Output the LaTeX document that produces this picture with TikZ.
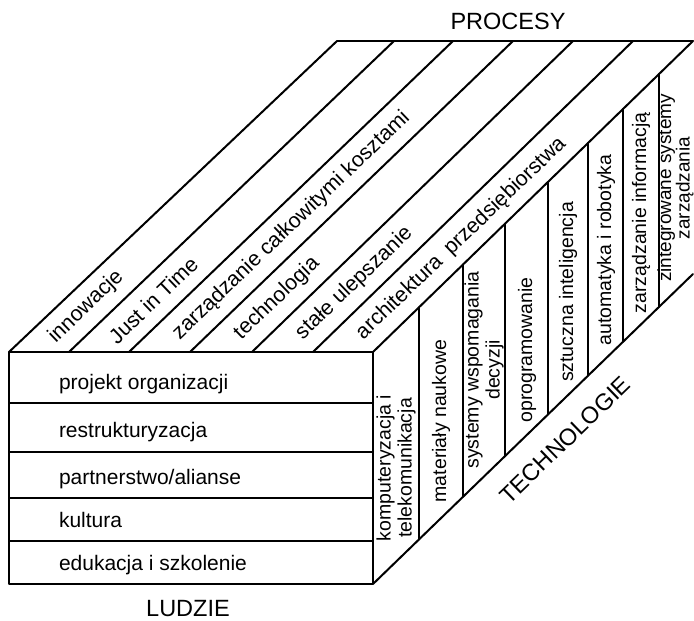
\documentclass[tikz,border=0pt]{standalone}
\usepackage{fontspec}
\setmainfont{Liberation Sans}
\begin{document}
\begin{tikzpicture}[x=1pt,y=-1pt,line width=2pt,line join=round,line cap=round,
  frontlbl/.style={font=\fontsize{21}{23}\selectfont,inner sep=0pt,anchor=base west},
  toplbl/.style={font=\fontsize{21.3}{23}\selectfont,inner sep=0pt,anchor=west,rotate=43.8},
  sidelbl/.style={font=\fontsize{19.5}{21}\selectfont,inner sep=0pt,anchor=center,rotate=90,align=center},
  biglbl/.style={font=\fontsize{23.5}{26}\selectfont,inner sep=0pt}]
\useasboundingbox (0,0) rectangle (694,621);
% front face (LUDZIE)
\draw (9,352) rectangle (373,584);
\foreach \y in {403,452,498,541} \draw (9,\y) -- (373,\y);
% top face (PROCESY)
\foreach \f/\b in {9/337,69/394,129/453,190/513,252/573,313/633,373/693}
  \draw (\f,352) -- (\b,41);
\draw (337,41) -- (693,41);
% right face (TECHNOLOGIE)
\draw (373,584) -- (693,274);
\foreach \x/\t/\bt in {419/307.3/539.4,463/264.5/496.8,505/223.7/456.1,548/181.9/414.5,588/143/375.7,623/109/341.8,659/74/307}
  \draw (\x,\t) -- (\x,\bt);
% front labels
\node[frontlbl] (l1) at (58,389) {projekt organizacji};
\node[frontlbl] (l2) at (58,437) {restrukturyzacja};
\node[frontlbl] (l3) at (58,484) {partnerstwo/alianse};
\node[frontlbl] (l4) at (58,527) {kultura};
\node[frontlbl] (l5) at (58,570) {edukacja i szkolenie};
% top labels
\node[toplbl] (p1) at (51.3,340.2) {innowacje};
\node[toplbl] (p2) at (111.3,340.2) {Just in Time};
\node[toplbl] (p3) at (175.4,336.8) {zarządzanie całkowitymi kosztami};
\node[toplbl] (p4) at (236.9,336.8) {technologia};
\node[toplbl] (p5) at (298.4,336.8) {stałe ulepszanie};
\node[toplbl] (p6) at (358.9,336.8) {architektura\hspace{0.5em}przedsiębiorstwa};
% side labels
\node[sidelbl] (t1) at (396,468) {komputeryzacja i\\telekomunikacja};
\node[sidelbl] (t2) at (441,421) {materiały naukowe};
\node[sidelbl] (t3) at (484,370) {systemy wspomagania\\decyzji};
\node[sidelbl] (t4) at (527,350) {oprogramowanie};
\node[sidelbl] (t5) at (568,292) {sztuczna inteligencja};
\node[sidelbl] (t6) at (606,250) {automatyka i robotyka};
\node[sidelbl] (t7) at (641,213) {zarządzanie informacją};
\node[sidelbl,font=\fontsize{19}{18.5}\selectfont] (t8) at (675.5,188) {zintegrowane systemy\\zarządzania};
% titles
\node[biglbl,anchor=base] (ludzie) at (188,616) {LUDZIE};
\node[biglbl,anchor=base] (procesy) at (508,30) {PROCESY};
\node[biglbl,anchor=center,rotate=44] (tech) at (565,440) {TECHNOLOGIE};
\end{tikzpicture}
\end{document}
